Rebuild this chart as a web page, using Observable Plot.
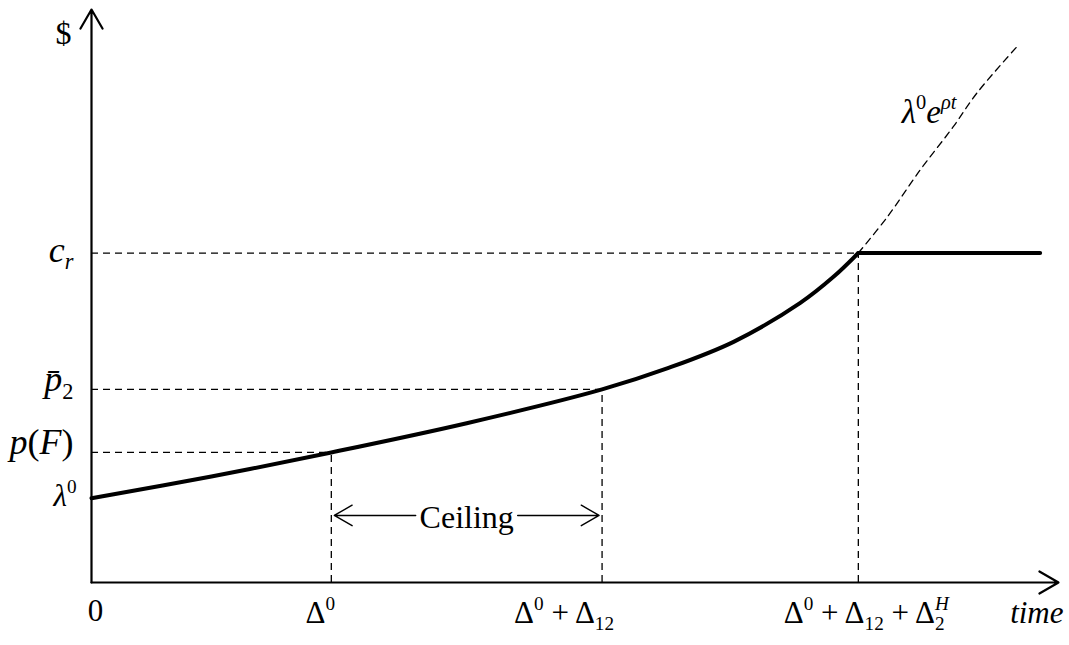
<!DOCTYPE html>
<html>
<head>
<meta charset="utf-8">
<script src="https://cdn.jsdelivr.net/npm/d3@7"></script>
<script src="https://cdn.jsdelivr.net/npm/@observablehq/plot@0.6"></script>
<style>
  html, body { margin: 0; padding: 0; background: #fff; }
</style>
</head>
<body>
<div id="chart"></div>
<script>
// ---- data (arbitrary units: time 0..100, price 0..100) ----
const timeMax = 100;
const priceMax = 100;
const tickTimes = [24.8, 52.8, 79.3];              // Δ0, Δ0+Δ12, Δ0+Δ12+Δ2H
const tickLabels = ["Δ^{0}", "Δ^{0} + Δ_{12}", "Δ^{0} + Δ_{12} + Δ_{2}^{*H*}"];
const tickLabelShift = [-11, -38, 8];
const priceLevels = [22.7, 33.7, 57.5];            // p(F), p̄2, c_r
const priceLabels = ["*p*(*F*)", "*p\u0304*_{2}", "*c*_{*r*}"];
const priceLabelShift = [-10, -9.5, -2.5];
const lambda0 = 14.7;
const pathTime  = [0, 12.4, 24.8, 38.8, 52.8, 59.6, 66.4, 73.3, 76.7, 79.3];
const pathPrice = [14.7, 18.5, 22.7, 27.8, 33.7, 37.4, 42.0, 48.8, 53.3, 57.5];
const capEnd = 98.1;
const expTime  = [79.3, 82.3, 85.7, 89.1, 91.6, 95.8];
const expPrice = [57.5, 63.8, 72.0, 79.5, 85.5, 93.7];
const ceilingLevel = 11.7;

// ---- tables built from the arrays ----
const path = pathTime.map((t, i) => ({t, p: pathPrice[i]}));
const expPath = expTime.map((t, i) => ({t, p: expPrice[i]}));
const ticks = tickTimes.map((t, i) => ({t, p: priceLevels[i], label: tickLabels[i], dx: tickLabelShift[i]}));
const levels = priceLevels.map((p, i) => ({p, t: tickTimes[i], label: priceLabels[i], dy: priceLabelShift[i]}));
const axes = [
  {x1: 0, y1: 0, x2: 0, y2: priceMax},
  {x1: 0, y1: 0, x2: timeMax, y2: 0}
];
const ceilingMid = (tickTimes[0] + tickTimes[1]) / 2;
const cap = [{t: tickTimes[2], p: priceLevels[2]}, {t: capEnd, p: priceLevels[2]}];

const FONT = "'Liberation Serif', 'Times New Roman', serif";
const dash = "7,5";

const svg = Plot.plot({
  width: 1069,
  height: 645,
  marginLeft: 91,
  marginRight: 11,
  marginTop: 9,
  marginBottom: 63,
  x: {domain: [0, timeMax], axis: null},
  y: {domain: [0, priceMax], axis: null},
  style: {fontFamily: FONT, background: "white", color: "black", overflow: "visible"},
  marks: [
    // dashed guides
    Plot.ruleY(levels, {y: "p", x1: 0, x2: "t", stroke: "black", strokeWidth: 1.3, strokeDasharray: dash}),
    Plot.ruleX(ticks, {x: "t", y1: 0, y2: "p", stroke: "black", strokeWidth: 1.3, strokeDasharray: dash}),
    // exponential path (dashed)
    Plot.line(expPath, {x: "t", y: "p", stroke: "black", strokeWidth: 1.3, strokeDasharray: dash, curve: "catmull-rom"}),
    // price path
    Plot.line(path, {x: "t", y: "p", stroke: "black", strokeWidth: 4, curve: "catmull-rom"}),
    Plot.line(cap, {x: "t", y: "p", stroke: "black", strokeWidth: 4}),
    // axes with arrows
    Plot.arrow(axes, {x1: "x1", y1: "y1", x2: "x2", y2: "y2", stroke: "black", strokeWidth: 2.2, headLength: 15, headAngle: 60}),
    // Ceiling arrows
    Plot.arrow([tickTimes[0], tickTimes[1]], {x1: () => ceilingMid, y1: () => ceilingLevel, x2: d => d, y2: () => ceilingLevel,
      insetStart: 51, insetEnd: 3, stroke: "black", strokeWidth: 1.4, headLength: 22, headAngle: 60}),
    Plot.text(["Ceiling"], {x: () => ceilingMid, y: () => ceilingLevel, text: d => d, fontSize: 32, lineAnchor: "middle", dy: 2, fill: "black"}),
    // y labels
    ...levels.map(d => Plot.text([d], {x: 0, y: "p", text: "label", textAnchor: "end", dx: -18, dy: d.dy, fontSize: 36, lineAnchor: "middle", fill: "black"})),
    Plot.text(["λ^{0}"], {x: 0, y: () => lambda0, text: d => "*" + d.replace("^{0}", "*^{0}"), textAnchor: "end", dx: -15, dy: -2, fontSize: 31, lineAnchor: "middle", fill: "black"}),
    Plot.text(["$"], {x: 0, y: () => priceMax, text: d => d, textAnchor: "end", dx: -20, dy: 24, fontSize: 32, lineAnchor: "middle", fill: "black"}),
    // x labels
    Plot.text(["0"], {x: 0, y: 0, text: d => d, textAnchor: "middle", dx: 4, dy: 29, fontSize: 31, lineAnchor: "middle", fill: "black"}),
    ...ticks.map(d => Plot.text([d], {x: "t", y: 0, text: "label", textAnchor: "middle", dx: d.dx, dy: 31, fontSize: 31, lineAnchor: "middle", fill: "black"})),
    Plot.text(["*time*"], {x: () => timeMax, y: 0, text: d => d, textAnchor: "end", dx: 5, dy: 31, fontSize: 31, lineAnchor: "middle", fill: "black"}),
    // exponential label
    Plot.text([expPath[3]], {x: "t", y: "p", text: () => "*λ*^{0}*e*^{*ρt*}", textAnchor: "middle", dx: -24, dy: -15, fontSize: 33, lineAnchor: "middle", fill: "black"})
  ]
});

document.getElementById("chart").appendChild(svg);

// ---- turn ^{..}, _{..}, *..* markup into real tspans ----
const NS = "http://www.w3.org/2000/svg";
function parseRich(s) {
  const segs = [];
  let italic = false;
  function walk(str, mode) {
    let buf = "";
    const flush = () => { if (buf) segs.push({text: buf, mode, italic}); buf = ""; };
    for (let i = 0; i < str.length; i++) {
      const c = str[i];
      if (c === "*") { flush(); italic = !italic; }
      else if ((c === "^" || c === "_") && str[i + 1] === "{") {
        flush();
        const j = str.indexOf("}", i + 2);
        walk(str.slice(i + 2, j), c === "^" ? "sup" : "sub");
        i = j;
      } else buf += c;
    }
    flush();
  }
  walk(s, "base");
  return segs;
}
svg.querySelectorAll("text").forEach(t => {
  const raw = t.textContent;
  if (!/[\^_*]/.test(raw)) return;
  const fs = parseFloat(getComputedStyle(t).fontSize);
  const segs = parseRich(raw);
  while (t.firstChild) t.removeChild(t.firstChild);
  let shift = 0, prevTs = null, prevMode = null;
  for (const seg of segs) {
    const ts = document.createElementNS(NS, "tspan");
    const target = seg.mode === "sup" ? -0.42 * fs : seg.mode === "sub" ? 0.2 * fs : 0;
    if (target !== shift) ts.setAttribute("dy", target - shift);
    shift = target;
    if (seg.mode !== "base") ts.setAttribute("font-size", 0.62 * fs);
    if (seg.italic) ts.setAttribute("font-style", "italic");
    if (seg.mode === "sup" && prevMode === "sub" && prevTs) ts.setAttribute("dx", -prevTs.getComputedTextLength());
    ts.textContent = seg.text;
    t.appendChild(ts);
    prevTs = ts; prevMode = seg.mode;
  }
});
</script>
</body>
</html>
